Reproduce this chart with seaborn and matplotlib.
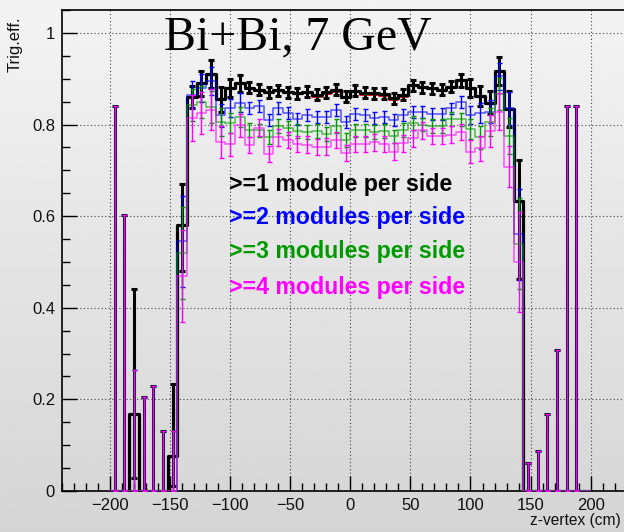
import numpy as np
import matplotlib
matplotlib.use("Agg")
import matplotlib.pyplot as plt
import seaborn as sns
from matplotlib.ticker import MultipleLocator, FixedLocator

# ---------------- data ----------------
bin_centers = [-196, -188, -180, -172, -164, -156, -148, -140, -132, -124,
               -116, -108, -100, -92, -84, -76, -68, -60, -52, -44,
               -36, -28, -20, -12, -4, 4, 12, 20, 28, 36,
               44, 52, 60, 68, 76, 84, 92, 100, 108, 116,
               124, 132, 140, 148, 156, 164, 172, 180, 188, 196]
bin_edges = [-200, -192, -184, -176, -168, -160, -152, -144, -136, -128,
             -120, -112, -104, -96, -88, -80, -72, -64, -56, -48,
             -40, -32, -24, -16, -8, 0, 8, 16, 24, 32,
             40, 48, 56, 64, 72, 80, 88, 96, 104, 112,
             120, 128, 136, 144, 152, 160, 168, 176, 184, 192, 200]

eff_ge1 = [0, 0, 0.167, 0, 0, 0, 0.076, 0.58, 0.86, 0.89,
           0.91, 0.855, 0.88, 0.89, 0.88, 0.876, 0.87, 0.875, 0.87, 0.868,
           0.872, 0.865, 0.87, 0.876, 0.861, 0.874, 0.869, 0.868, 0.867, 0.857,
           0.865, 0.886, 0.881, 0.879, 0.876, 0.883, 0.897, 0.879, 0.862, 0.848,
           0.916, 0.834, 0.632, 0, 0, 0, 0, 0, 0, 0]
lo_ge1 = [0, 0, 0.139, 0, 0, 0, 0.066, 0.10, 0.025, 0.028,
          0.03, 0.028, 0.02, 0.018, 0.012, 0.012, 0.012, 0.012, 0.012, 0.012,
          0.012, 0.012, 0.012, 0.012, 0.012, 0.012, 0.012, 0.012, 0.012, 0.012,
          0.012, 0.012, 0.012, 0.012, 0.012, 0.012, 0.014, 0.02, 0.022, 0.025,
          0.03, 0.04, 0.17, 0, 0, 0, 0, 0, 0, 0]
hi_ge1 = [0.841, 0.602, 0.273, 0.205, 0.23, 0.132, 0.158, 0.09, 0.025, 0.027,
          0.03, 0.027, 0.02, 0.018, 0.012, 0.012, 0.012, 0.012, 0.012, 0.012,
          0.012, 0.012, 0.012, 0.012, 0.012, 0.012, 0.012, 0.012, 0.012, 0.012,
          0.012, 0.012, 0.012, 0.012, 0.012, 0.012, 0.014, 0.02, 0.022, 0.025,
          0.032, 0.04, 0.09, 0.062, 0.087, 0.168, 0.308, 0.841, 0.841, 0]

eff_ge2 = [0, 0, 0, 0, 0, 0, 0, 0.545, 0.865, 0.88,
           0.895, 0.82, 0.836, 0.848, 0.836, 0.84, 0.81, 0.836, 0.826, 0.812,
           0.82, 0.817, 0.817, 0.832, 0.806, 0.823, 0.82, 0.815, 0.817, 0.81,
           0.821, 0.827, 0.828, 0.823, 0.823, 0.835, 0.85, 0.821, 0.825, 0.828,
           0.905, 0.835, 0.56, 0, 0, 0, 0, 0, 0, 0]
eff_ge3 = [0, 0, 0, 0, 0, 0, 0, 0.52, 0.843, 0.85,
           0.838, 0.806, 0.803, 0.817, 0.788, 0.787, 0.772, 0.797, 0.792, 0.786,
           0.783, 0.786, 0.78, 0.797, 0.767, 0.787, 0.787, 0.784, 0.786, 0.774,
           0.788, 0.804, 0.8, 0.796, 0.797, 0.812, 0.811, 0.79, 0.772, 0.806,
           0.866, 0.775, 0.54, 0, 0, 0, 0, 0, 0, 0]
eff_ge4 = [0, 0, 0, 0, 0, 0, 0, 0.47, 0.815, 0.825,
           0.832, 0.762, 0.757, 0.798, 0.755, 0.793, 0.736, 0.772, 0.766, 0.757,
           0.756, 0.751, 0.752, 0.766, 0.738, 0.757, 0.758, 0.761, 0.758, 0.741,
           0.759, 0.77, 0.787, 0.775, 0.775, 0.778, 0.784, 0.741, 0.748, 0.785,
           0.828, 0.708, 0.50, 0, 0, 0, 0, 0, 0, 0]

# upper error of the empty-efficiency bins (shared by the >=2,3,4 series)
spike_hi = [0.841, 0.602, 0.264, 0.205, 0.23, 0.132, 0.132, 0, 0, 0,
            0, 0, 0, 0, 0, 0, 0, 0, 0, 0,
            0, 0, 0, 0, 0, 0, 0, 0, 0, 0,
            0, 0, 0, 0, 0, 0, 0, 0, 0, 0,
            0, 0, 0, 0.062, 0.087, 0.168, 0.308, 0.841, 0.841, 0]
# symmetric errors of the filled bins for >=2, >=3, >=4
err_ge2 = [0, 0, 0, 0, 0, 0, 0, 0.10, 0.03, 0.03, 0.03, 0.025, 0.02, 0.02] + [0.013] * 23 + \
          [0.02, 0.022, 0.025, 0.03, 0.035, 0.10] + [0] * 7
err_ge3 = [0, 0, 0, 0, 0, 0, 0, 0.10, 0.035, 0.035, 0.035, 0.03, 0.022, 0.022] + [0.015] * 23 + \
          [0.022, 0.025, 0.03, 0.035, 0.04, 0.10] + [0] * 7
err_ge4 = [0, 0, 0, 0, 0, 0, 0, 0.10, 0.05, 0.045, 0.045, 0.035, 0.025, 0.025] + [0.018] * 23 + \
          [0.025, 0.028, 0.035, 0.04, 0.045, 0.11] + [0] * 7

# red reference curve visible under the black one
red_lo_edge, red_hi_edge = -40, 48

labels = [">=1 module per side", ">=2 modules per side",
          ">=3 modules per side", ">=4 modules per side"]
colors = ["#000000", "#0000ff", "#009a00", "#ff00ff"]

# ---------------- figure ----------------
sns.set_theme(style="white")
plt.rcParams["font.family"] = ["Liberation Sans", "DejaVu Sans"]

fig = plt.figure(figsize=(6.24, 5.32), dpi=100)

# grey gradient background (ROOT style canvas)
bg = fig.add_axes([0, 0, 1, 1], zorder=-10)
grad = np.linspace(0.955, 0.835, 256).reshape(-1, 1)
bg.imshow(grad, aspect="auto", cmap="gray", vmin=0, vmax=1, extent=[0, 1, 0, 1])
bg.set_axis_off()

W, H = 624, 532
x0_px, y0_px = 62, 491          # left / bottom of frame
px_per_cm = 1.205
x_right_px = 349.5 + 240 * px_per_cm
ax = fig.add_axes([x0_px / W, (H - y0_px) / H,
                   (x_right_px - x0_px) / W, (y0_px - 10) / H])
ax.set_facecolor("none")

centers = np.array(bin_centers, dtype=float)


def draw_series(vals, lo, hi, color, lw, elw, cap, step_alpha, z):
    vals = np.asarray(vals, float)
    lo = np.asarray(lo, float)
    hi = np.asarray(hi, float)
    sns.histplot(x=centers, weights=vals, bins=bin_edges, element="step",
                 fill=False, color=color, linewidth=lw, alpha=step_alpha,
                 ax=ax, zorder=z)
    m = (lo + hi) > 0
    ax.errorbar(centers[m], vals[m], yerr=[lo[m], hi[m]], fmt="none",
                ecolor=color, elinewidth=elw, capsize=cap, capthick=elw,
                zorder=z + 0.5)


# red curve under the black one
red_vals = np.array(eff_ge1, float) - 0.004
red_mask = (centers > red_lo_edge) & (centers < red_hi_edge)
red_x = []
red_y = []
for c, v in zip(centers[red_mask], red_vals[red_mask]):
    red_x += [c - 4, c + 4]
    red_y += [v, v]
ax.plot(red_x, red_y, color="red", lw=1.3, zorder=1.5)

draw_series(eff_ge1, lo_ge1, hi_ge1, colors[0], 2.3, 2.2, 2.0, 1.0, 2)

for vals, err, col, z in [(eff_ge2, err_ge2, colors[1], 4),
                          (eff_ge3, err_ge3, colors[2], 6),
                          (eff_ge4, err_ge4, colors[3], 8)]:
    e = np.asarray(err, float)
    lo = e.copy()
    hi = np.maximum(e, np.asarray(spike_hi, float))
    draw_series(vals, lo, hi, col, 1.1, 1.0, 1.8, 0.65, z)

# ---------------- axes cosmetics ----------------
ax.set_xlim(-240, 240)
ax.set_ylim(0, 1.05)
ax.set_xlabel("")
ax.set_ylabel("")

ax.xaxis.set_major_locator(FixedLocator([-200, -150, -100, -50, 0, 50, 100, 150, 200]))
ax.xaxis.set_minor_locator(MultipleLocator(10))
ax.yaxis.set_major_locator(FixedLocator([0, 0.2, 0.4, 0.6, 0.8, 1.0]))
ax.yaxis.set_minor_locator(MultipleLocator(0.05))
ax.set_yticklabels(["0", "0.2", "0.4", "0.6", "0.8", "1"])

ax.tick_params(axis="both", which="major", direction="in", length=11, width=1.0,
               color="black", labelsize=12, labelcolor="#111111")
ax.tick_params(axis="both", which="minor", direction="in", length=5.5, width=1.0,
               color="black")
ax.tick_params(axis="x", which="both", bottom=True, top=False, pad=5)
ax.tick_params(axis="y", which="both", left=True, right=False, pad=5)

ax.grid(True, which="major", color="#444444", linestyle=(0, (1, 2.2)), linewidth=0.8)
ax.set_axisbelow(True)

for s in ["left", "bottom", "top"]:
    ax.spines[s].set_visible(True)
    ax.spines[s].set_color("black")
    ax.spines[s].set_linewidth(1.2)
ax.spines["right"].set_visible(False)

# title text
ax.text(-154.8, 0.963, "Bi+Bi, 7 GeV", fontsize=34.5, va="baseline", ha="left",
        family=["Liberation Serif", "DejaVu Serif"], color="black", zorder=20)

# legend-like texts
ys = [0.668, 0.598, 0.522, 0.445]
for lab, col, yy in zip(labels, colors, ys):
    ax.text(-101, yy, lab, color=col, fontsize=16.7, fontweight="bold",
            va="center", ha="left", zorder=20)

# axis titles (ROOT style positions)
fig.text(15 / W, 1 - 17 / H, "Trig.eff.", rotation=90, ha="center", va="top",
         fontsize=12, color="#111111")
fig.text(621 / W, 1 - 521 / H, "z-vertex (cm)", ha="right", va="center",
         fontsize=11.2, color="#111111")

fig.savefig("out.png", dpi=100)
